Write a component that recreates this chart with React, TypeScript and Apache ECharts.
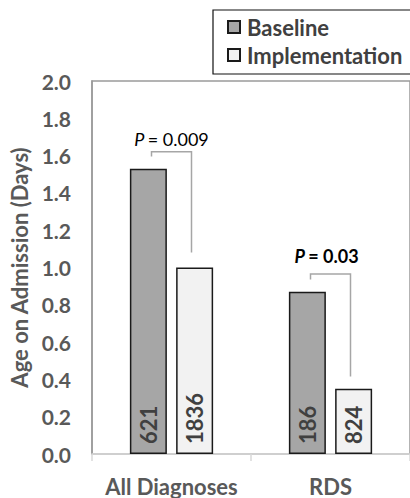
import React, { useEffect, useRef } from "react";
import * as echarts from "echarts";

const categories = ["All Diagnoses", "RDS"];
const baselineValues = [1.53, 0.87];
const implementationValues = [1.0, 0.35];
const baselineN = ["621", "186"];
const implementationN = ["1836", "824"];
const pLabels = ["0.009", "0.03"];
const pBold = [false, true];
const pLabelY = [1.69, 1.06];
const bracketTop = [1.62, 0.965];
const bracketLeftEnd = [1.595, 0.935];
const bracketRightEnd = [1.08, 0.415];

const FONT = "Lato, 'Open Sans', sans-serif";

export default function App() {
  const ref = useRef<HTMLDivElement>(null);
  useEffect(() => {
    document.body.style.margin = "0";
    if (!ref.current) return;
    const chart = echarts.init(ref.current, undefined, { renderer: "svg" });
    const option: any = {
      animation: false,
      backgroundColor: "#ffffff",
      textStyle: { fontFamily: FONT },
      grid: {
        left: 92,
        top: 81,
        width: 324,
        height: 373,
        show: true,
        borderColor: "#9a9a9a",
        borderWidth: 1.5,
        backgroundColor: "transparent",
      },
      legend: {
        orient: "vertical",
        left: 213,
        top: 10,
        data: ["Baseline", "Implementation"],
        icon: "rect",
        itemWidth: 12,
        itemHeight: 12,
        itemGap: 4,
        padding: [5, 30, 7, 14],
        borderColor: "#111",
        borderWidth: 1.2,
        backgroundColor: "#fff",
        textStyle: {
          fontFamily: FONT,
          fontSize: 22,
          fontWeight: "bold",
          color: "#404040",
          lineHeight: 24,
          padding: [0, 0, 0, 2],
        },
      },
      xAxis: {
        type: "category",
        data: categories,
        axisLine: { show: true, lineStyle: { color: "#d9d9d9", width: 1.5 } },
        axisTick: { show: true, length: 7, lineStyle: { color: "#d9d9d9", width: 1.5 } },
        axisLabel: {
          interval: 0,
          hideOverlap: false,
          margin: 21,
          fontFamily: FONT,
          fontSize: 22,
          fontWeight: "bold",
          color: "#595959",
        },
      },
      yAxis: {
        type: "value",
        min: 0,
        max: 2,
        interval: 0.2,
        name: "Age on Admission (Days)",
        nameLocation: "middle",
        nameGap: 59,
        nameTextStyle: {
          fontFamily: FONT,
          fontSize: 22,
          fontWeight: "bold",
          color: "#595959",
        },
        axisLine: { show: true, lineStyle: { color: "#9a9a9a", width: 1.5 } },
        axisTick: { show: false },
        splitLine: { show: false },
        axisLabel: {
          margin: 21,
          fontFamily: FONT,
          fontSize: 21,
          fontWeight: "bold",
          color: "#595959",
          formatter: (v: number) => v.toFixed(1),
        },
      },
      series: [
        {
          name: "Baseline",
          type: "bar",
          data: baselineValues,
          barWidth: 37,
          barGap: "25%",
          itemStyle: { color: "#a6a6a6", borderColor: "#1a1a1a", borderWidth: 1.5 },
          label: {
            show: true,
            position: "insideBottom",
            rotate: 90,
            align: "left",
            verticalAlign: "middle",
            distance: 10,
            fontFamily: FONT,
            fontSize: 22,
            fontWeight: "bold",
            color: "#404040",
            formatter: (p: any) => baselineN[p.dataIndex],
          },
        },
        {
          name: "Implementation",
          type: "bar",
          data: implementationValues,
          barWidth: 37,
          itemStyle: { color: "#f2f2f2", borderColor: "#1a1a1a", borderWidth: 1.5 },
          label: {
            show: true,
            position: "insideBottom",
            rotate: 90,
            align: "left",
            verticalAlign: "middle",
            distance: 10,
            fontFamily: FONT,
            fontSize: 22,
            fontWeight: "bold",
            color: "#404040",
            formatter: (p: any) => implementationN[p.dataIndex],
          },
        },
        {
          name: "brackets",
          type: "custom",
          data: categories.map((_, i) => [i, bracketTop[i], bracketLeftEnd[i], bracketRightEnd[i], pLabelY[i]]),
          z: 5,
          renderItem: (params: any, api: any) => {
            const i = api.value(0);
            const top = api.coord([i, api.value(1)]);
            const lEnd = api.coord([i, api.value(2)]);
            const rEnd = api.coord([i, api.value(3)]);
            const pPos = api.coord([i, api.value(4)]);
            const cx = top[0];
            const xl = cx - 20;
            const xr = cx + 20;
            const bold = pBold[params.dataIndex];
            return {
              type: "group",
              children: [
                {
                  type: "polyline",
                  shape: {
                    points: [
                      [xl, lEnd[1]],
                      [xl, top[1]],
                      [xr, top[1]],
                      [xr, rEnd[1]],
                    ],
                  },
                  style: { stroke: "#a6a6a6", lineWidth: 1.5, fill: null },
                },
                {
                  type: "text",
                  x: cx - (bold ? 4 : 0),
                  y: pPos[1],
                  style: {
                    text: "{p|P} {n|= " + pLabels[params.dataIndex] + "}",
                    align: "center",
                    verticalAlign: "middle",
                    rich: {
                      p: {
                        fontFamily: FONT,
                        fontSize: 18,
                        fontStyle: "italic",
                        fontWeight: bold ? "bold" : "normal",
                        fill: "#000",
                      },
                      n: {
                        fontFamily: FONT,
                        fontSize: 18,
                        fontWeight: bold ? "bold" : "normal",
                        fill: "#000",
                      },
                    },
                  },
                },
              ],
            };
          },
        },
      ],
    };
    chart.setOption(option);
    return () => chart.dispose();
  }, []);
  return <div ref={ref} style={{ width: 410, height: 498 }} />;
}
